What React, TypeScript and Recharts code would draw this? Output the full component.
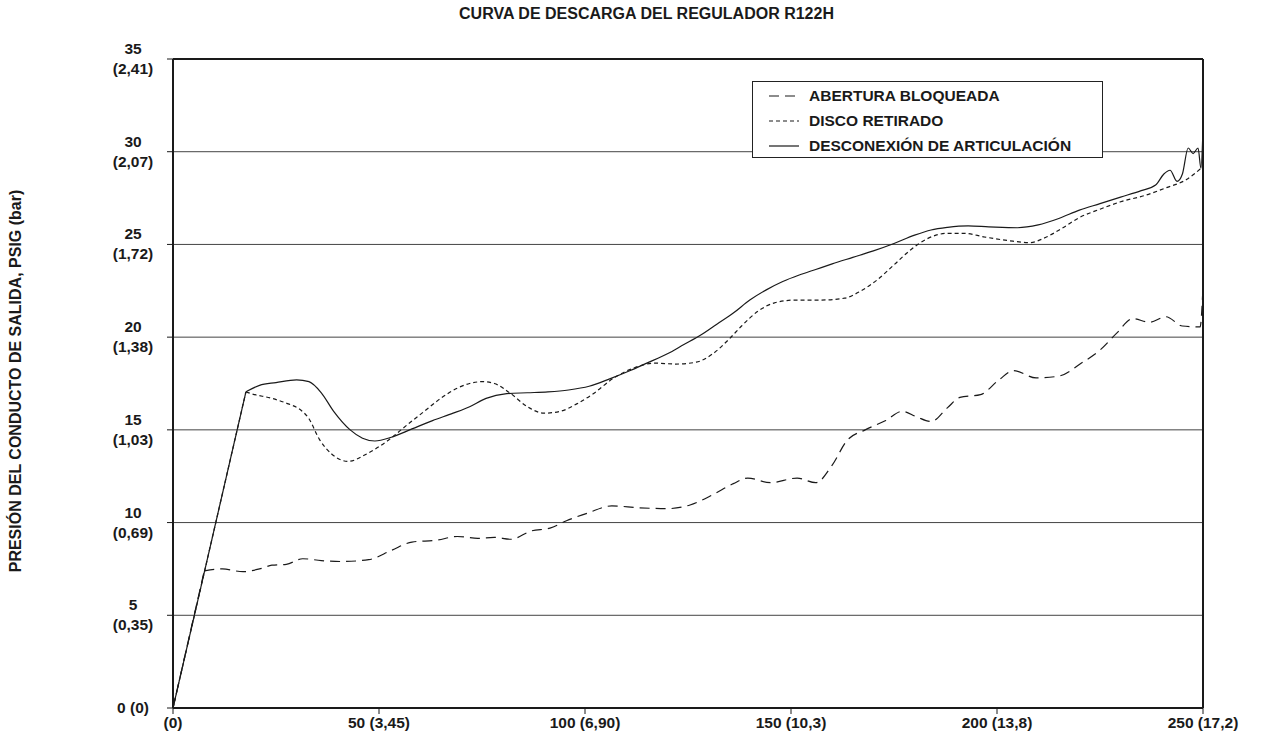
import { LineChart, Line, XAxis, YAxis, CartesianGrid, ReferenceLine } from 'recharts';

// caudal (SCFH) / presión de salida (PSIG)
const aberturaBloqueada: [number, number][] = [
  [0, 0], [7.6, 7.4], [12, 7.5], [17, 7.35], [21, 7.5], [24, 7.7], [27.5, 7.75], [31.5, 8.05],
  [36, 7.95], [41, 7.9], [47.5, 8.0], [53, 8.5], [58, 8.95], [64, 9.05], [69, 9.25], [74, 9.15],
  [78, 9.2], [82, 9.1], [87, 9.55], [91.5, 9.7], [95.5, 10.1], [100.5, 10.5], [106.5, 10.9],
  [113, 10.8], [120, 10.75], [125.5, 10.95], [131, 11.5], [136, 12.1], [139.5, 12.4], [145, 12.15],
  [151.5, 12.4], [156, 12.15], [160, 13.1], [163.5, 14.4], [168, 15.0], [173, 15.5], [177, 16.0],
  [180.5, 15.7], [184, 15.45], [188, 16.2], [191, 16.75], [196, 16.9], [200.5, 17.7], [204, 18.2],
  [209.5, 17.8], [215, 17.9], [220.5, 18.6], [225, 19.3], [229, 20.2], [233, 21.0], [237, 20.8],
  [241, 21.1], [245, 20.6], [249.3, 20.55], [250, 22.7],
];

const discoRetirado: [number, number][] = [
  [0, 0], [17.7, 17.05], [19, 16.95], [24, 16.7], [28, 16.4], [30.5, 16.15], [33, 15.6], [35.5, 14.5],
  [38.5, 13.7], [42.5, 13.3], [47, 13.7], [52, 14.4], [57, 15.3], [61, 16.0], [65, 16.7], [69, 17.25],
  [72, 17.5], [75, 17.6], [78, 17.5], [82, 16.95], [86, 16.25], [90, 15.9], [94, 16.0], [98, 16.4],
  [102, 16.95], [107, 17.8], [112, 18.35], [117, 18.6], [122, 18.55], [127, 18.65], [131, 19.1],
  [135, 19.9], [138, 20.6], [142, 21.4], [146, 21.85], [151, 22.0], [157, 22.0], [163, 22.1],
  [167, 22.5], [171, 23.1], [175, 23.9], [179, 24.7], [183, 25.3], [188, 25.6], [192, 25.6],
  [197, 25.4], [203, 25.2], [208, 25.1], [212, 25.4], [216, 25.9], [220, 26.45], [225, 26.9],
  [230, 27.3], [236, 27.65], [241, 28.05], [246, 28.5], [249.5, 29.1],
];

const desconexion: [number, number][] = [
  [0, 0], [17.7, 17.05], [21, 17.4], [25, 17.55], [30, 17.7], [33, 17.6], [36, 17.0], [39, 16.0],
  [43, 15.0], [46, 14.55], [49, 14.4], [53, 14.6], [58, 15.05], [63, 15.5], [68, 15.9], [72, 16.25],
  [76, 16.7], [81, 16.95], [86, 17.0], [91, 17.05], [96, 17.15], [101, 17.35], [106, 17.75],
  [111, 18.2], [115, 18.6], [120, 19.1], [124, 19.6], [128, 20.1], [132, 20.7], [136, 21.3],
  [140, 22.0], [144, 22.55], [148, 23.0], [152, 23.35], [156, 23.65], [160, 23.95], [165, 24.3],
  [170, 24.65], [175, 25.05], [180, 25.5], [184, 25.78], [188, 25.92], [193, 26.0], [198, 25.95],
  [205, 25.9], [210, 26.05], [215, 26.4], [220, 26.85], [225, 27.2], [230, 27.55], [235, 27.9],
  [238.5, 28.2], [240.5, 28.8], [242, 29.0], [243.7, 28.4], [245, 28.8], [246.4, 30.2],
  [247.6, 29.9], [248.8, 30.2], [249.5, 29.1], [250, 31.2],
];

const psiTicks = [0, 5, 10, 15, 20, 25, 30, 35];
const barLabels = ['(0)', '(0,35)', '(0,69)', '(1,03)', '(1,38)', '(1,72)', '(2,07)', '(2,41)'];
const flowTicks = [0, 50, 100, 150, 200, 250];
const flowLabels = ['(0)', '50 (3,45)', '100 (6,90)', '150 (10,3)', '200 (13,8)', '250 (17,2)'];

const series = [
  { name: 'ABERTURA BLOQUEADA', points: aberturaBloqueada, dash: '10 6' },
  { name: 'DISCO RETIRADO', points: discoRetirado, dash: '4 3' },
  { name: 'DESCONEXIÓN DE ARTICULACIÓN', points: desconexion, dash: undefined },
];

const FONT = '"Liberation Sans", Arial, sans-serif';
const INK = '#1a1a1a';
const TICK_SIZE = 15.5;

const toRows = (pts: [number, number][]) => pts.map(([x, y]) => ({ x, y }));

const PsiTick = (props: any) => {
  const { x, y, payload } = props;
  const i = psiTicks.indexOf(payload.value);
  const cx = x - 32;
  if (payload.value === 0) {
    return (
      <text x={cx} y={y + 5} textAnchor="middle" fontFamily={FONT} fontSize={TICK_SIZE} fontWeight="bold" fill={INK}>
        0 (0)
      </text>
    );
  }
  return (
    <text textAnchor="middle" fontFamily={FONT} fontSize={TICK_SIZE} fontWeight="bold" fill={INK}>
      <tspan x={cx} y={y - 5}>{payload.value}</tspan>
      <tspan x={cx} y={y + 15}>{barLabels[i]}</tspan>
    </text>
  );
};

const FlowTick = (props: any) => {
  const { x, y, payload } = props;
  const i = flowTicks.indexOf(payload.value);
  return (
    <text x={x} y={y + 12} textAnchor="middle" fontFamily={FONT} fontSize={TICK_SIZE} fontWeight="bold" fill={INK}>
      {flowLabels[i]}
    </text>
  );
};

const LegendBox = () => (
  <div
    style={{
      position: 'absolute',
      left: 752,
      top: 81,
      background: '#fff',
      border: '1px solid #222',
      boxSizing: 'border-box',
      width: 351,
      height: 77,
      padding: '1px 0 0 15px',
      fontFamily: FONT,
      fontSize: 15.5,
      fontWeight: 'bold',
      color: INK,
      zIndex: 2,
    }}
  >
    {series.map((s) => (
      <div key={s.name} style={{ display: 'flex', alignItems: 'center', height: 25 }}>
        <svg width={41} height={10}>
          <line x1={1} y1={5} x2={31} y2={5} stroke={INK} strokeWidth={1.2} strokeDasharray={s.dash} />
        </svg>
        <span>{s.name}</span>
      </div>
    ))}
  </div>
);

export default function App() {
  return (
    <div style={{ position: 'absolute', left: 0, top: 0, width: 1261, height: 745, background: '#fff' }}>
      <div
        style={{
          position: 'absolute',
          top: 5,
          left: 16,
          width: 1261,
          textAlign: 'center',
          fontFamily: FONT,
          fontSize: 16,
          fontWeight: 'bold',
          color: INK,
          lineHeight: '18px',
        }}
      >
        CURVA DE DESCARGA DEL REGULADOR R122H
      </div>
      <div
        style={{
          position: 'absolute',
          left: 16,
          top: 381,
          transform: 'translate(-50%, -50%) rotate(-90deg)',
          whiteSpace: 'nowrap',
          fontFamily: FONT,
          fontSize: 16,
          fontWeight: 'bold',
          color: INK,
        }}
      >
        PRESIÓN DEL CONDUCTO DE SALIDA, PSIG (bar)
      </div>
      <LineChart width={1261} height={745} margin={{ top: 59, right: 58, bottom: 0, left: 0 }}>
        <CartesianGrid horizontal vertical={false} stroke="#444" strokeWidth={1} />
        <XAxis
          type="number"
          dataKey="x"
          domain={[0, 250]}
          ticks={flowTicks}
          height={37}
          tickSize={6}
          tickLine={{ stroke: INK, strokeWidth: 1 }}
          axisLine={{ stroke: INK, strokeWidth: 2 }}
          tick={<FlowTick />}
          allowDataOverflow
        />
        <YAxis
          type="number"
          domain={[0, 35]}
          ticks={psiTicks}
          width={173}
          tickSize={6}
          tickLine={{ stroke: INK, strokeWidth: 1 }}
          axisLine={{ stroke: INK, strokeWidth: 2 }}
          tick={<PsiTick />}
          allowDataOverflow
        />
        <ReferenceLine y={35} stroke={INK} strokeWidth={2} />
        <ReferenceLine x={250} stroke={INK} strokeWidth={2} />
        {/* straight initial rise of each curve, then the smooth remainder */}
        {series.map((s) => (
          <Line
            key={s.name + '-rise'}
            data={toRows(s.points.slice(0, 2))}
            dataKey="y"
            type="linear"
            stroke={INK}
            strokeWidth={1.2}
            strokeDasharray={s.dash}
            dot={false}
            activeDot={false}
            isAnimationActive={false}
          />
        ))}
        {series.map((s) => (
          <Line
            key={s.name}
            name={s.name}
            data={toRows(s.points.slice(1))}
            dataKey="y"
            type="monotone"
            stroke={INK}
            strokeWidth={1.2}
            strokeDasharray={s.dash}
            dot={false}
            activeDot={false}
            isAnimationActive={false}
          />
        ))}
      </LineChart>
      <LegendBox />
    </div>
  );
}
